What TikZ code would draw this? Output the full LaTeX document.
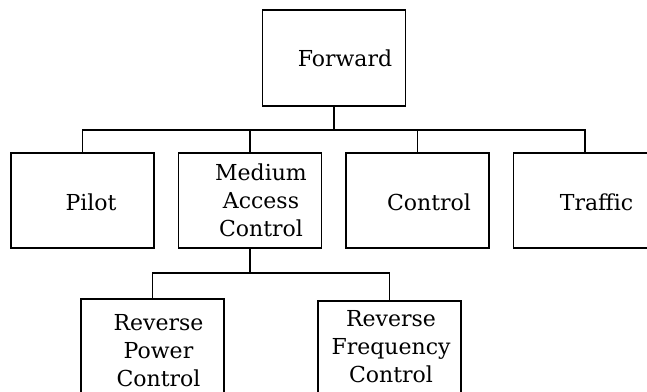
\documentclass[tikz,border=0pt]{standalone}
\usepackage{fontspec}
\setmainfont{DejaVu Serif}
\begin{document}
\begin{tikzpicture}[x=1pt,y=-1pt,
  box/.style={draw,line width=1.6pt,minimum width=143pt,minimum height=95pt,inner sep=0pt},
  lbl/.style={inner sep=0pt,align=center,font=\fontsize{22}{28}\selectfont},
  wire/.style={line width=1.6pt}]
\path[use as bounding box,clip] (0,0) rectangle (647,391);

% boxes
\node[box,minimum height=96pt] (fwd) at (334,58) {};
\node[box] (pilot) at (82.5,200.5) {};
\node[box] (mac) at (250,200.5) {};
\node[box] (ctrl) at (417.5,200.5) {};
\node[box] (traffic) at (585,200.5) {};
\node[box] (rpc) at (152.5,346.5) {};
\node[box] (rfc) at (389.5,348.5) {};

% labels
\node[lbl,anchor=base] (fwd-t) at (345,66) {Forward};
\node[lbl,anchor=base] (pilot-t) at (91,210) {Pilot};
\node[lbl] (mac-t) at (261,200) {Medium\\Access\\Control};
\node[lbl,anchor=base] (ctrl-t) at (429,210) {Control};
\node[lbl,anchor=base] (traffic-t) at (596.5,210) {Traffic};
\node[lbl] (rpc-t) at (158.5,350.5) {Reverse\\Power\\Control};
\node[lbl] (rfc-t) at (391,346.5) {Reverse\\Frequency\\Control};

% bus levels
\coordinate (tb) at (0,130);
\coordinate (bb) at (0,273);

% connectors
\draw[wire] (fwd.south) -- (fwd.south |- tb);
\draw[wire] (pilot.north) -- (pilot.north |- tb) -- (traffic.north |- tb) -- (traffic.north);
\draw[wire] (mac.north) -- (mac.north |- tb);
\draw[wire] (ctrl.north) -- (ctrl.north |- tb);
\draw[wire] (mac.south) -- (mac.south |- bb);
\draw[wire] (rpc.north) -- (rpc.north |- bb) -- (rfc.north |- bb) -- (rfc.north);
\end{tikzpicture}
\end{document}
